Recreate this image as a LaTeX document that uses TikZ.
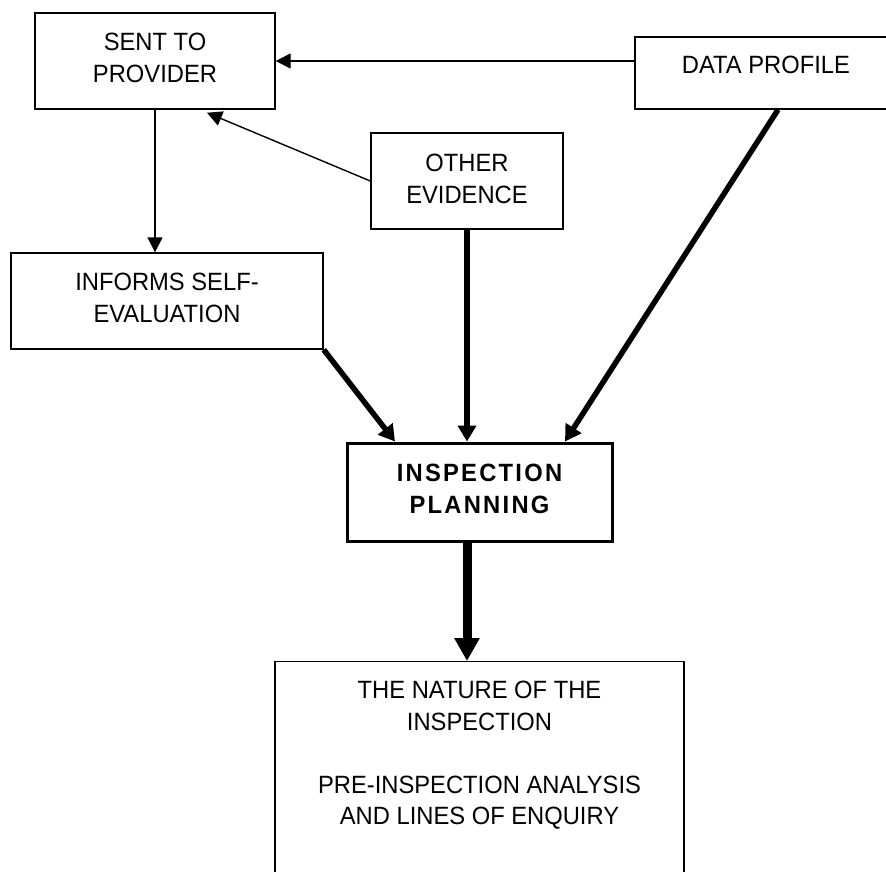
\documentclass[tikz,border=0pt]{standalone}
\usepackage{fontspec}
\setmainfont[FakeStretch=0.95]{Liberation Sans}
\newfontfamily\spacedbold[LetterSpace=9,FakeStretch=0.95]{Liberation Sans}
\usetikzlibrary{arrows.meta}
\tikzset{
  box/.style={draw, line width=1.4pt, inner sep=0pt},
  txt/.style={inner sep=0pt, align=center, font=\fontsize{25}{32}\selectfont},
  thinarrow/.style={line width=1.4pt, -{Triangle[length=15pt,width=15pt]}},
  thickarrow/.style={line width=5.5pt, -{Triangle[length=16pt,width=18pt]}},
  bigarrow/.style={line width=9pt, -{Triangle[length=23pt,width=24pt]}},
}
\begin{document}
\begin{tikzpicture}[x=1pt,y=-1pt]
\useasboundingbox (0,0) rectangle (886,871);
\clip (0,0) rectangle (886,871);
\fill[white] (0,0) rectangle (886,871);
% boxes
\node[box, minimum width=240, minimum height=96] (sent) at (155,61) {};
\node[box, minimum width=262, minimum height=72] (data) at (766,73) {};
\node[box, minimum width=192, minimum height=96] (other) at (467,181) {};
\node[box, minimum width=312, minimum height=96] (inf) at (167,301) {};
\node[box, line width=3pt, minimum width=265, minimum height=98] (insp) at (479.5,492) {};
\node[box, minimum width=409, minimum height=260, anchor=north] (nat) at (479.5,661) {};
% texts
\node[txt] (sentt) at (155,58) {SENT TO\\PROVIDER};
\node[txt] (datat) at (766,65) {DATA PROFILE};
\node[txt] (othert) at (467,178.5) {OTHER\\EVIDENCE};
\node[txt] (inft) at (167,297.5) {INFORMS SELF-\\EVALUATION};
\node[txt] (inspt) at (479.5,489) {\spacedbold\bfseries INSPECTION\\\spacedbold\bfseries PLANNING};
\node[txt, font=\fontsize{25}{31.5}\selectfont, anchor=north] (natt) at (479.5,681)
  {THE NATURE OF THE\\INSPECTION\\[31.5pt]PRE-INSPECTION ANALYSIS\\AND LINES OF ENQUIRY};
% connectors
\draw[thinarrow] (data.west |- sent.east) -- (sent.east);
\draw[thinarrow] (other.west) -- ([xshift=52pt,yshift=-3pt]sent.south);
\draw[thinarrow] (sent.south) -- (sent.south |- inf.north);
\draw[thickarrow] (inf.south east) -- ([xshift=-84.5pt]insp.north);
\draw[thickarrow] (other.south) -- (insp.north -| other.south);
\draw[thickarrow] ([xshift=12pt]data.south) -- ([xshift=85.5pt]insp.north);
\draw[bigarrow] (insp.south -| other.south) -- (nat.north -| other.south);
\end{tikzpicture}
\end{document}
